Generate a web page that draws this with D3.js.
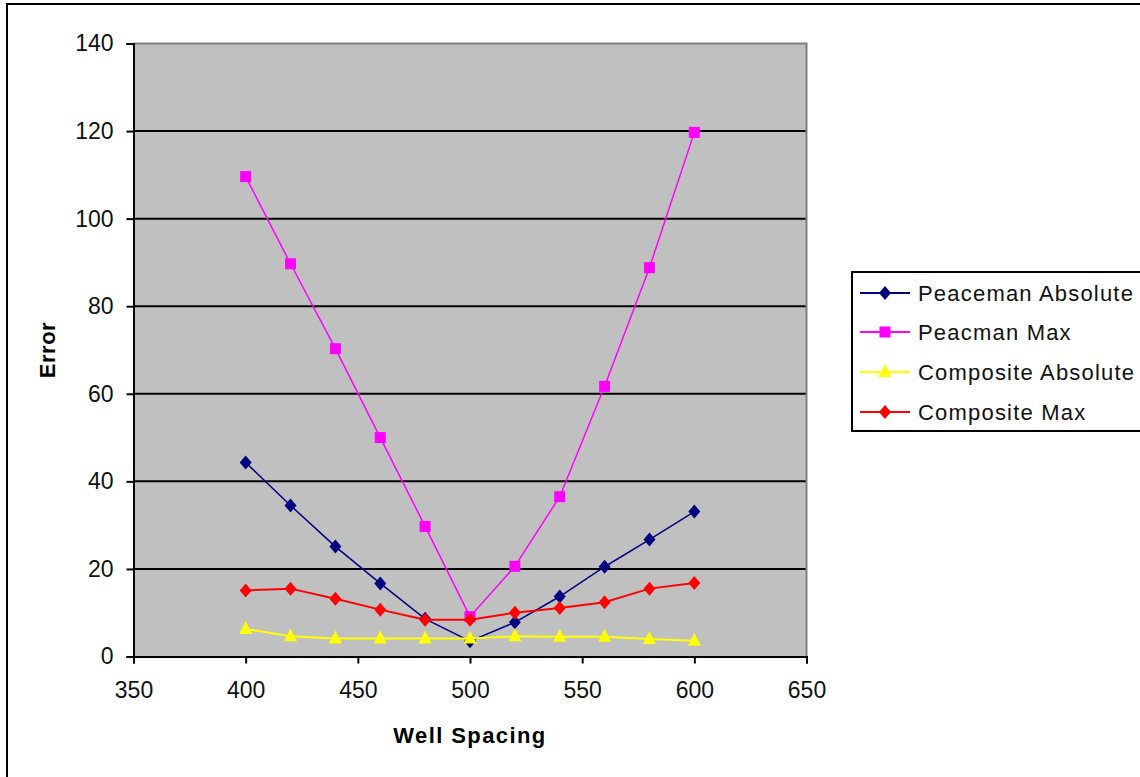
<!DOCTYPE html>
<html>
<head>
<meta charset="utf-8">
<script src="https://cdn.jsdelivr.net/npm/d3@7/dist/d3.min.js"></script>
<style>
  html, body { margin: 0; padding: 0; background: #fff; }
  svg { display: block; font-family: "Liberation Sans", Arial, sans-serif; }
</style>
</head>
<body>
<svg id="chart" width="1140" height="777"></svg>
<script>
// Well spacing values (x) shared by all series
const wellSpacing = [400, 420, 440, 460, 480, 500, 520, 540, 560, 580, 600];

// Error values per series
const peacemanAbsolute  = [44.3, 34.5, 25.1, 16.7, 8.6, 3.5, 7.8, 13.7, 20.5, 26.7, 33.1];
const peacmanMax        = [109.6, 89.7, 70.3, 50.0, 29.7, 9.1, 20.6, 36.5, 61.7, 88.8, 119.7];
const compositeAbsolute = [6.3, 4.6, 4.1, 4.1, 4.1, 4.1, 4.6, 4.5, 4.5, 4.0, 3.6];
const compositeMax      = [15.1, 15.5, 13.2, 10.7, 8.4, 8.4, 10.0, 11.1, 12.4, 15.5, 16.8];

const seriesNames = ["Peaceman Absolute", "Peacman Max", "Composite Absolute", "Composite Max"];
const seriesColors = ["#000080", "#FF00FF", "#FFFF00", "#FF0000"];
const seriesShapes = ["diamond", "square", "triangle", "diamond"];
const seriesValues = [peacemanAbsolute, peacmanMax, compositeAbsolute, compositeMax];

const xTicks = [350, 400, 450, 500, 550, 600, 650];
const yTicks = [0, 20, 40, 60, 80, 100, 120, 140];

const svg = d3.select("#chart");

// Outer chart frame
svg.append("rect")
  .attr("x", 7).attr("y", 4)
  .attr("width", 1160).attr("height", 800)
  .attr("fill", "#fff").attr("stroke", "#000").attr("stroke-width", 2);

const plot = { left: 133.5, right: 806.5, top: 43.5, bottom: 656.5 };

const x = d3.scaleLinear().domain([350, 650]).range([plot.left, plot.right]);
const y = d3.scaleLinear().domain([0, 140]).range([plot.bottom, plot.top]);

// Plot background
svg.append("rect")
  .attr("x", plot.left).attr("y", plot.top)
  .attr("width", plot.right - plot.left).attr("height", plot.bottom - plot.top)
  .attr("fill", "#C0C0C0");

// Horizontal gridlines
svg.append("g")
  .selectAll("line")
  .data(yTicks.filter(v => v > 0 && v < 140))
  .join("line")
  .attr("x1", plot.left).attr("x2", plot.right)
  .attr("y1", d => y(d)).attr("y2", d => y(d))
  .attr("stroke", "#000").attr("stroke-width", 2);

// Gray top and right border of the plot area
svg.append("path")
  .attr("d", `M${plot.left},${plot.top}H${plot.right}V${plot.bottom}`)
  .attr("fill", "none").attr("stroke", "#808080").attr("stroke-width", 2);

// Axes
const yAxis = svg.append("g")
  .attr("transform", `translate(${plot.left},0)`)
  .call(d3.axisLeft(y).tickValues(yTicks).tickSize(7).tickPadding(13).tickFormat(d3.format("d")));
const xAxis = svg.append("g")
  .attr("transform", `translate(0,${plot.bottom})`)
  .call(d3.axisBottom(x).tickValues(xTicks).tickSize(7).tickPadding(18).tickFormat(d3.format("d")));

[yAxis, xAxis].forEach(g => {
  g.select(".domain").attr("stroke", "#000").attr("stroke-width", 2);
  g.selectAll(".tick line").attr("stroke", "#000").attr("stroke-width", 2);
  g.selectAll(".tick text")
    .attr("fill", "#111")
    .style("font-size", "23px")
    .style("font-family", "'Liberation Sans', Arial, sans-serif");
});
xAxis.selectAll(".tick text").attr("dy", "0.71em");

// Axis titles
svg.append("text")
  .attr("x", 470).attr("y", 743)
  .attr("text-anchor", "middle")
  .style("font-size", "22px").style("font-weight", "bold").style("letter-spacing", "1.4px")
  .attr("fill", "#000")
  .text("Well Spacing");

svg.append("text")
  .attr("transform", "translate(55,350) rotate(-90)")
  .attr("text-anchor", "middle")
  .style("font-size", "22px").style("font-weight", "bold").style("letter-spacing", "0.5px")
  .attr("fill", "#000")
  .text("Error");

// Marker symbols
function markerPath(shape) {
  if (shape === "diamond") return "M0,-7L6,0L0,7L-6,0Z";
  if (shape === "square") return "M-5.5,-5.5H5.5V5.5H-5.5Z";
  return "M0,-8L6.5,5H-6.5Z";
}

const line = d3.line().x(d => x(d[0])).y(d => y(d[1]));

seriesValues.forEach((vals, i) => {
  const pts = wellSpacing.map((w, j) => [w, vals[j]]);
  const g = svg.append("g");
  g.append("path")
    .datum(pts)
    .attr("d", line)
    .attr("fill", "none")
    .attr("stroke", seriesColors[i])
    .attr("stroke-width", i === 2 || i === 3 ? 2 : 1.5);
  g.selectAll("path.m")
    .data(pts)
    .join("path")
    .attr("class", "m")
    .attr("transform", d => `translate(${x(d[0])},${y(d[1])})`)
    .attr("d", markerPath(seriesShapes[i]))
    .attr("fill", seriesColors[i]);
});

// Legend
const legend = svg.append("g");
legend.append("rect")
  .attr("x", 852).attr("y", 272)
  .attr("width", 320).attr("height", 159)
  .attr("fill", "#fff").attr("stroke", "#000").attr("stroke-width", 2);

const legendRows = [293, 332, 372, 412];
seriesNames.forEach((name, i) => {
  const ly = legendRows[i];
  legend.append("line")
    .attr("x1", 860).attr("x2", 910)
    .attr("y1", ly).attr("y2", ly)
    .attr("stroke", seriesColors[i]).attr("stroke-width", 2);
  legend.append("path")
    .attr("transform", `translate(885,${ly})`)
    .attr("d", markerPath(seriesShapes[i]))
    .attr("fill", seriesColors[i]);
  legend.append("text")
    .attr("x", 918).attr("y", ly)
    .attr("dy", "0.36em")
    .style("font-size", "22px").style("letter-spacing", "1.2px")
    .attr("fill", "#111")
    .text(name);
});
</script>
</body>
</html>
